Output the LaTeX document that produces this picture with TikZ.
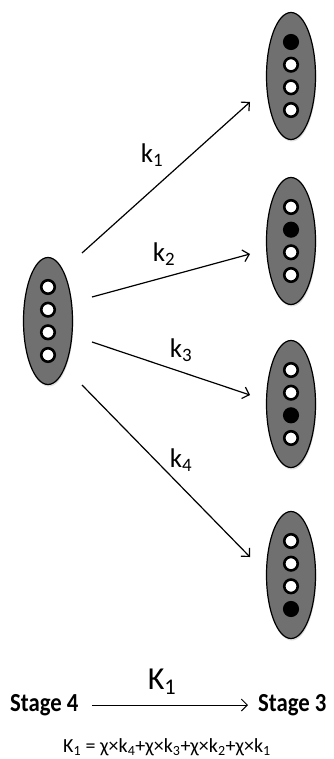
\documentclass[tikz,border=0pt]{standalone}
\usepackage{fontspec}
\setmainfont{Carlito}
\usetikzlibrary{arrows.meta,shapes.geometric,shadows}
\definecolor{cellgray}{RGB}{112,112,112}
\begin{document}
\begin{tikzpicture}[x=1pt,y=-1pt,
  cell/.style={ellipse, draw=black, line width=1.2pt, fill=cellgray,
    minimum width=49pt, minimum height=127pt, inner sep=0pt,
    drop shadow={opacity=0.25, shadow xshift=0.8pt, shadow yshift=-2pt}},
  dot/.style={circle, draw=black, line width=2.6pt, fill=white,
    minimum size=13.5pt, inner sep=0pt},
  full/.style={dot, fill=black},
  arr/.style={line width=1.2pt, -{Straight Barb[length=6pt,width=12pt,line width=1.2pt]}},
  klab/.style={font=\fontsize{27}{29}\selectfont, inner sep=0pt},
  stage/.style={font=\fontsize{26}{28}\selectfont\bfseries, inner sep=0pt}
]
\useasboundingbox (0,0) rectangle (333,759);

\foreach \name/\cx/\cy/\blk in {L/48/321/0, A/291/76/1, B/291/241/2, C/291/404/3, D/291/575/4} {
  \node[cell] (\name) at (\cx,\cy) {};
  \foreach \i/\dy in {1/-34,2/-11.3,3/11.3,4/34} {
    \ifnum\i=\blk
      \node[full] (\name\i) at (\cx,\cy+\dy) {};
    \else
      \node[dot] (\name\i) at (\cx,\cy+\dy) {};
    \fi
  }
}

\coordinate (a1s) at (82,253);  \coordinate (a1e) at (250,102);
\coordinate (a2s) at (92,297);  \coordinate (a2e) at (250,254);
\coordinate (a3s) at (92,342);  \coordinate (a3e) at (250,395);
\coordinate (a4s) at (82,385);  \coordinate (a4e) at (250,557);

\draw[arr] (a1s) -- (a1e);
\draw[arr] (a2s) -- (a2e);
\draw[arr] (a3s) -- (a3e);
\draw[arr] (a4s) -- (a4e);

\node[klab] (k1) at (152,155) {k\textsubscript{1}};
\node[klab] (k2) at (164,254) {k\textsubscript{2}};
\node[klab] (k3) at (181,350) {k\textsubscript{3}};
\node[klab] (k4) at (181,460) {k\textsubscript{4}};

\node[stage, anchor=base west] (s4) at (10,711) {\scalebox{0.875}[1]{Stage 4}};
\node[stage, anchor=base west] (s3) at (258,711) {\scalebox{0.875}[1]{Stage 3}};
\coordinate (b1) at (92,705);
\coordinate (b2) at (248,705);
\draw[line width=1pt, -{Straight Barb[length=6pt,width=12pt,line width=1pt]}] (b1) -- (b2);
\node[font=\fontsize{32}{34}\selectfont, inner sep=0pt, anchor=base] (K1) at (162,689) {K\textsubscript{1}};

\node[font=\fontsize{20}{22}\selectfont, inner sep=0pt, anchor=base] (f) at (167,752)
  {K\textsubscript{1} = χ×k\textsubscript{4}+χ×k\textsubscript{3}+χ×k\textsubscript{2}+χ×k\textsubscript{1}};
\end{tikzpicture}
\end{document}
